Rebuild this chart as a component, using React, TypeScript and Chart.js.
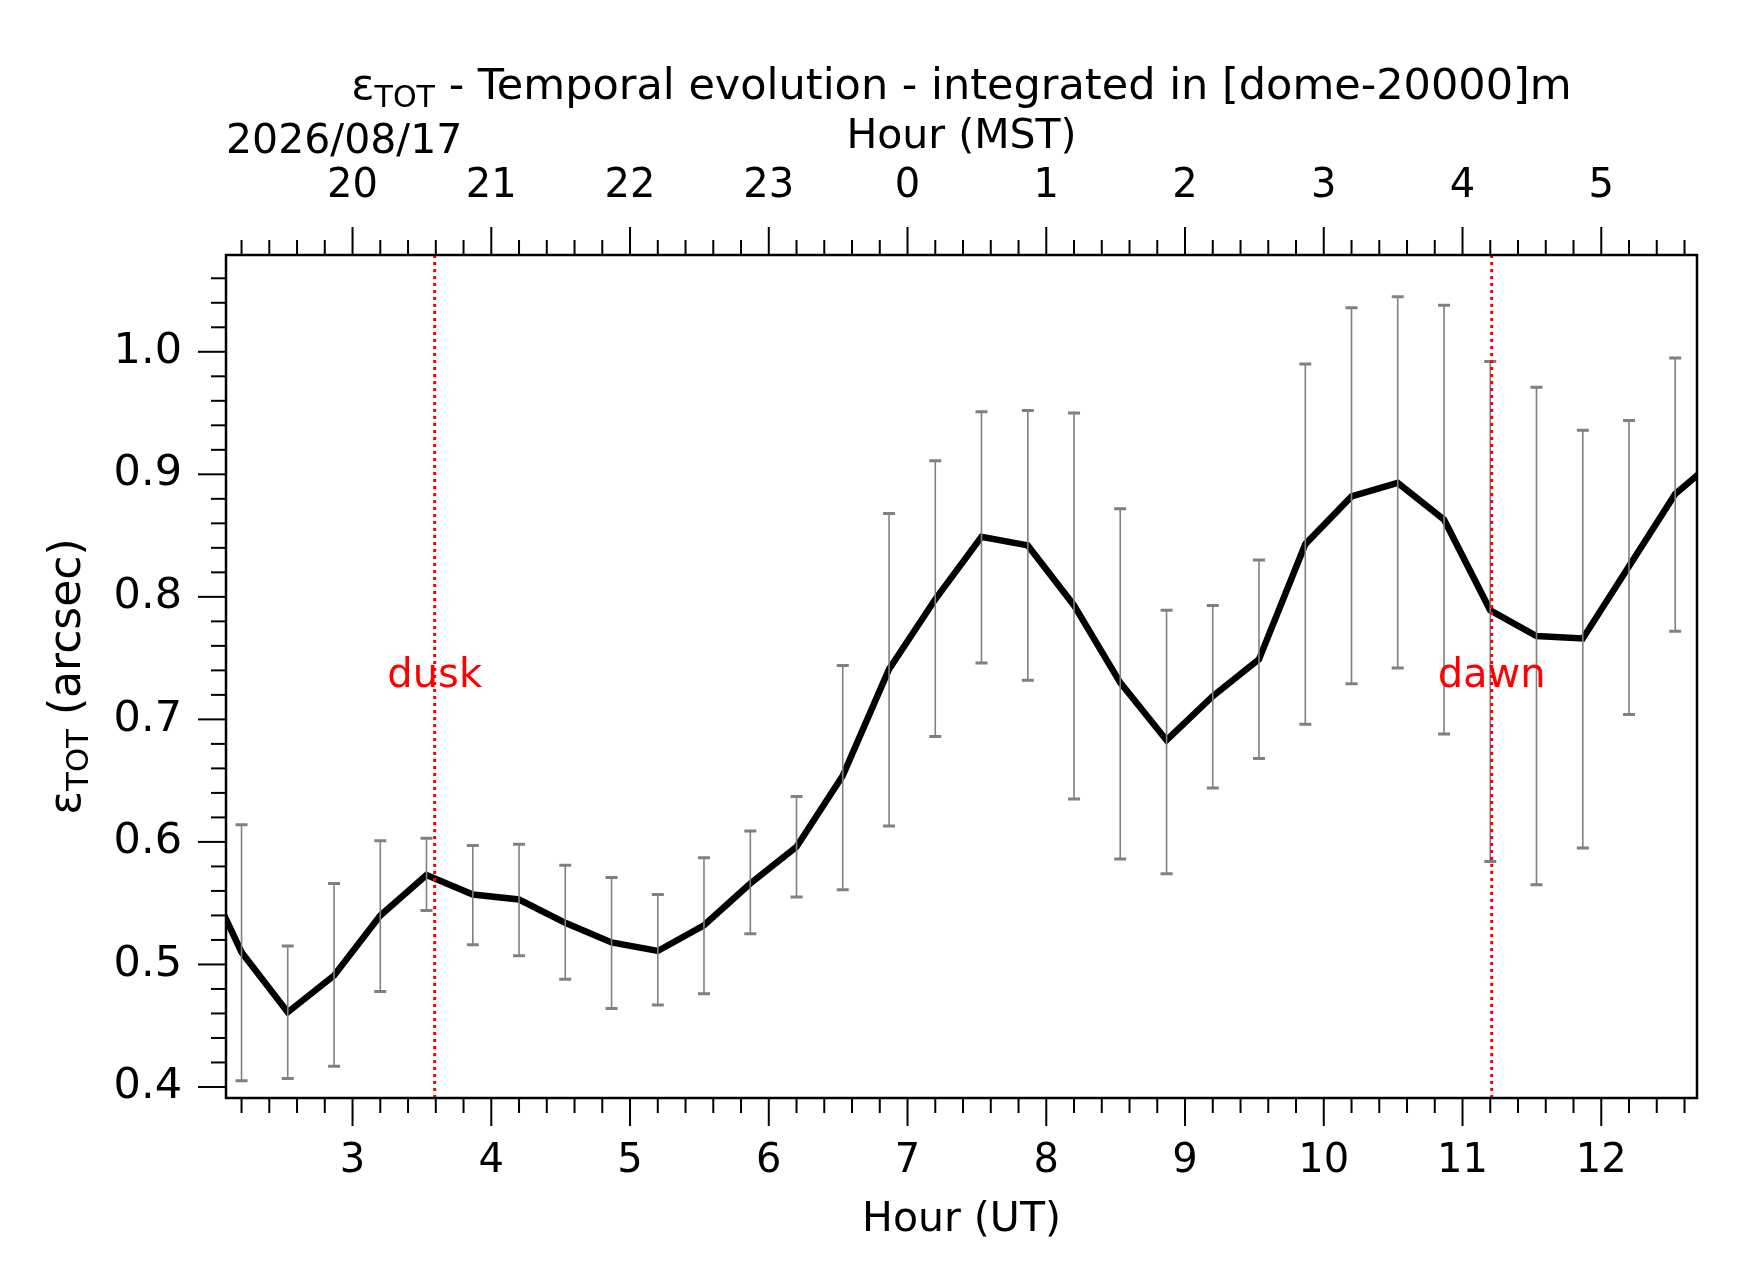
import React, { useEffect, useRef } from "react";
import { Chart, registerables } from "chart.js";
Chart.register(...registerables);

const hoursUT = [1.867, 2.2, 2.533, 2.867, 3.2, 3.533, 3.867, 4.2, 4.533, 4.867, 5.2, 5.533, 5.867, 6.2, 6.533, 6.867, 7.2, 7.533, 7.867, 8.2, 8.533, 8.867, 9.2, 9.533, 9.867, 10.2, 10.533, 10.867, 11.2, 11.533, 11.867, 12.2, 12.533, 12.867];
const seeing = [0.59, 0.51, 0.461, 0.491, 0.54, 0.573, 0.557, 0.553, 0.534, 0.518, 0.511, 0.532, 0.566, 0.596, 0.654, 0.741, 0.798, 0.849, 0.842, 0.793, 0.73, 0.683, 0.719, 0.749, 0.843, 0.882, 0.893, 0.863, 0.789, 0.768, 0.766, 0.825, 0.884, 0.916];
const errTop = [NaN, 0.614, 0.515, 0.566, 0.601, 0.603, 0.597, 0.598, 0.581, 0.571, 0.557, 0.587, 0.609, 0.637, 0.744, 0.868, 0.911, 0.951, 0.952, 0.95, 0.872, 0.789, 0.793, 0.83, 0.99, 1.036, 1.045, 1.038, 0.992, 0.971, 0.936, 0.944, 0.995, NaN];
const errBottom = [NaN, 0.405, 0.407, 0.417, 0.478, 0.544, 0.516, 0.507, 0.488, 0.464, 0.467, 0.476, 0.525, 0.555, 0.561, 0.613, 0.686, 0.746, 0.732, 0.635, 0.586, 0.574, 0.644, 0.668, 0.696, 0.729, 0.742, 0.688, 0.584, 0.565, 0.595, 0.704, 0.772, NaN];
const duskUT = 3.592;
const dawnUT = 11.21;
const xMin = 2.088, xMax = 12.69;
const yMin = 0.391, yMax = 1.079;
const yTicks = [0.4, 0.5, 0.6, 0.7, 0.8, 0.9, 1.0];
const utOffset = -7;
const dateLabel = "2026/08/17";

const FONT = "'DejaVu Sans', sans-serif";

const drawPlugin = {
  id: "custom",
  afterDatasetsDraw(chart: any) {
    const { ctx, chartArea: a, scales } = chart;
    const xs = scales.x, ys = scales.y;
    ctx.save();
    ctx.beginPath();
    ctx.rect(a.left, a.top, a.right - a.left, a.bottom - a.top);
    ctx.clip();
    ctx.strokeStyle = "#808080";
    for (let i = 0; i < hoursUT.length; i++) {
      if (isNaN(errTop[i])) continue;
      const x = xs.getPixelForValue(hoursUT[i]);
      const t = ys.getPixelForValue(errTop[i]);
      const b = ys.getPixelForValue(errBottom[i]);
      ctx.lineWidth = 1.6;
      ctx.beginPath(); ctx.moveTo(x, t); ctx.lineTo(x, b); ctx.stroke();
      ctx.lineWidth = 3;
      ctx.beginPath(); ctx.moveTo(x - 6, t); ctx.lineTo(x + 6, t); ctx.moveTo(x - 6, b); ctx.lineTo(x + 6, b); ctx.stroke();
    }
    ctx.strokeStyle = "#ff0000";
    ctx.lineWidth = 3;
    ctx.setLineDash([3, 4]);
    for (const v of [duskUT, dawnUT]) {
      const x = xs.getPixelForValue(v);
      ctx.beginPath(); ctx.moveTo(x, a.top); ctx.lineTo(x, a.bottom); ctx.stroke();
    }
    ctx.setLineDash([]);
    ctx.restore();

    ctx.save();
    ctx.fillStyle = "#ff0000";
    ctx.font = `40px ${FONT}`;
    ctx.textAlign = "center"; ctx.textBaseline = "middle";
    const yLab = ys.getPixelForValue(0.735);
    ctx.fillText("dusk", xs.getPixelForValue(duskUT), yLab);
    ctx.fillText("dawn", xs.getPixelForValue(dawnUT), yLab);

    ctx.strokeStyle = "#000"; ctx.lineWidth = 2.5;
    ctx.strokeRect(a.left, a.top, a.right - a.left, a.bottom - a.top);

    ctx.fillStyle = "#000";
    ctx.font = `40px ${FONT}`;
    ctx.lineWidth = 2;
    for (let k = Math.ceil(xMin * 5); k <= Math.floor(xMax * 5); k++) {
      const v = k / 5;
      const x = xs.getPixelForValue(v);
      const major = k % 5 === 0;
      const len = major ? 28 : 15;
      ctx.beginPath();
      ctx.moveTo(x, a.bottom); ctx.lineTo(x, a.bottom + len);
      ctx.moveTo(x, a.top); ctx.lineTo(x, a.top - len);
      ctx.stroke();
      if (major) {
        const h = Math.round(v);
        ctx.textBaseline = "middle";
        ctx.fillText(String(h), x, a.bottom + 64);
        ctx.fillText(String(((h + utOffset) % 24 + 24) % 24), x, a.top - 68);
      }
    }
    ctx.textAlign = "right";
    for (let k = Math.ceil(yMin * 50); k <= Math.floor(yMax * 50); k++) {
      const v = k / 50;
      const y = ys.getPixelForValue(v);
      const major = k % 5 === 0;
      const len = major ? 28 : 15;
      ctx.beginPath(); ctx.moveTo(a.left, y); ctx.lineTo(a.left - len, y); ctx.stroke();
    }
    ctx.font = `43px ${FONT}`;
    for (const v of yTicks) {
      ctx.fillText(v.toFixed(1), a.left - 44, ys.getPixelForValue(v));
    }
    ctx.font = `41px ${FONT}`;
    ctx.textAlign = "center";
    ctx.fillText("Hour (UT)", (a.left + a.right) / 2, a.bottom + 122);
    ctx.fillText("Hour (MST)", (a.left + a.right) / 2, 137);
    ctx.textAlign = "left";
    ctx.fillText(dateLabel, a.left, 142);

    const drawEps = (x: number, y: number, size: number, rest: string) => {
      ctx.font = `${size}px ${FONT}`;
      const w1 = ctx.measureText("ε").width;
      ctx.font = `${size * 0.7}px ${FONT}`;
      const w2 = ctx.measureText("TOT").width;
      ctx.font = `${size}px ${FONT}`;
      const w3 = ctx.measureText(rest).width;
      let cx = x - (w1 + w2 + w3) / 2;
      ctx.textAlign = "left";
      ctx.fillText("ε", cx, y); cx += w1;
      ctx.font = `${size * 0.7}px ${FONT}`;
      ctx.fillText("TOT", cx, y + size * 0.25); cx += w2;
      ctx.font = `${size}px ${FONT}`;
      ctx.fillText(rest, cx, y);
    };
    ctx.textBaseline = "middle";
    drawEps((a.left + a.right) / 2, 88, 43, " - Temporal evolution - integrated in [dome-20000]m");
    ctx.save();
    ctx.translate(69, (a.top + a.bottom) / 2);
    ctx.rotate(-Math.PI / 2);
    drawEps(0, 0, 44, " (arcsec)");
    ctx.restore();
    ctx.restore();
  },
};

export default function App() {
  const ref = useRef<HTMLCanvasElement>(null);
  useEffect(() => {
    document.body.style.margin = "0";
    const chart = new Chart(ref.current!, {
      type: "line",
      data: {
        datasets: [{
          data: hoursUT.map((h, i) => ({ x: h, y: seeing[i] })),
          borderColor: "#000",
          borderWidth: 6.5,
          pointRadius: 0,
          tension: 0,
        }],
      },
      options: {
        animation: false,
        responsive: false,
        devicePixelRatio: 1,
        layout: { padding: { left: 226, right: 45, top: 255, bottom: 184 } },
        plugins: { legend: { display: false }, tooltip: { enabled: false } },
        scales: {
          x: { type: "linear", min: xMin, max: xMax, display: false },
          y: { type: "linear", min: yMin, max: yMax, display: false },
        },
      },
      plugins: [drawPlugin],
    });
    return () => chart.destroy();
  }, []);
  return (
    <div style={{ position: "absolute", left: 0, top: 0, width: 1742, height: 1282, background: "#fff" }}>
      <canvas ref={ref} width={1742} height={1282} />
    </div>
  );
}
